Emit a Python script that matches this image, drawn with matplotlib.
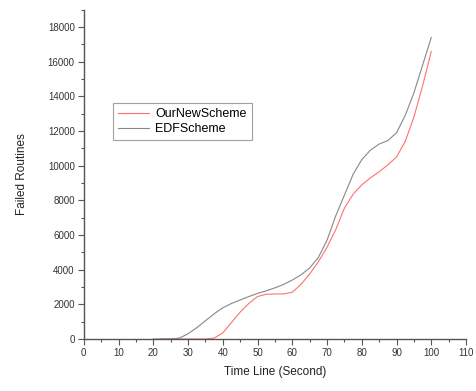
import matplotlib
matplotlib.use('Agg')
from matplotlib import pyplot as plt
from matplotlib.ticker import MultipleLocator

plt.rcParams['font.family'] = ['Liberation Sans', 'DejaVu Sans']

time_edf = [20, 25, 27.5, 30, 32.5, 35, 37.5, 40, 42.5, 45, 47.5, 50, 52.5, 55, 57.5, 60,
            62.5, 65, 67.5, 70, 72.5, 75, 77.5, 80, 82.5, 85, 87.5, 90, 92.5, 95, 97.5, 100]
edf_scheme = [0, 0, 50, 300, 650, 1050, 1450, 1800, 2050, 2250, 2450, 2630, 2780, 2950, 3150, 3400,
              3700, 4100, 4700, 5700, 7100, 8300, 9500, 10350, 10900, 11250, 11450, 11900, 12900, 14200, 15800, 17400]

time_new = [22, 25, 30, 35, 37.5, 40, 42.5, 45, 47.5, 50, 52.5, 55, 57.5, 60,
            62.5, 65, 67.5, 70, 72.5, 75, 77.5, 80, 82.5, 85, 87.5, 90, 92.5, 95, 97.5, 100]
new_scheme = [0, 0, 0, 0, 50, 350, 950, 1550, 2050, 2450, 2580, 2600, 2600, 2700,
              3150, 3750, 4450, 5300, 6300, 7550, 8350, 8900, 9300, 9650, 10050, 10500, 11400, 12800, 14600, 16600]

fig = plt.figure(figsize=(4.76, 3.91), dpi=100)
ax = fig.add_axes([0.176, 0.133, 0.803, 0.842])

ax.plot(time_new, new_scheme, color='#ff7070', lw=0.8, label='OurNewScheme')
ax.plot(time_edf, edf_scheme, color='#888888', lw=0.8, label='EDFScheme')

ax.set_xlim(0, 110)
ax.set_ylim(0, 19000)
ax.xaxis.set_major_locator(MultipleLocator(10))
ax.xaxis.set_minor_locator(MultipleLocator(5))
ax.yaxis.set_minor_locator(MultipleLocator(1000))
ax.set_yticks(range(0, 18001, 2000))

for s in ['top', 'right']:
    ax.spines[s].set_visible(False)
for s in ['left', 'bottom']:
    ax.spines[s].set_color('#555555')
    ax.spines[s].set_linewidth(1.0)

ax.tick_params(which='major', length=4.5, width=0.8, color='#555555', labelsize=7, pad=2, labelcolor='#333333')
ax.tick_params(which='minor', length=2.5, width=0.8, color='#555555')

ax.set_xlabel('Time Line (Second)', fontsize=8.5, labelpad=6, color='#222222')
ax.set_ylabel('Failed Routines', fontsize=8.5, labelpad=14, color='#222222')

leg = ax.legend(loc='upper left', bbox_to_anchor=(0.06, 0.735), fontsize=9, frameon=True,
                fancybox=False, edgecolor='#888888', handlelength=2.5, borderpad=0.4,
                labelspacing=0.25, handletextpad=0.5)
leg.get_frame().set_linewidth(0.8)

fig.savefig('out.png', dpi=100)
